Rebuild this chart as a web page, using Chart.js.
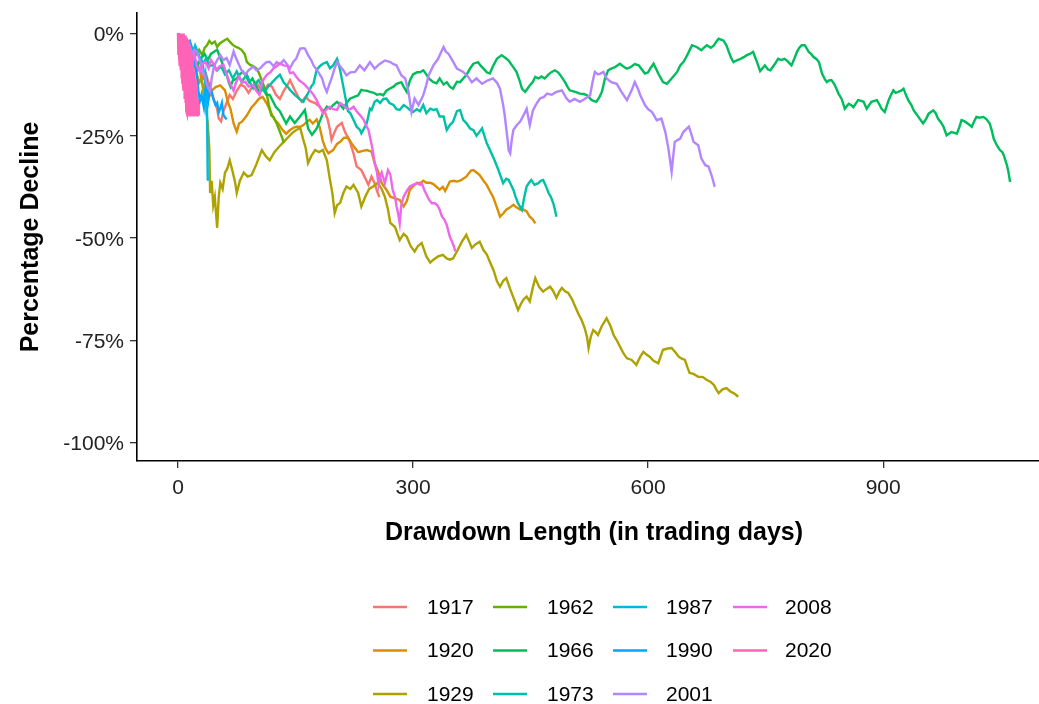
<!DOCTYPE html>
<html>
<head>
<meta charset="utf-8">
<script src="https://cdn.jsdelivr.net/npm/chart.js@4.4.1/dist/chart.umd.min.js"></script>
<style>
    html, body { margin: 0; padding: 0; overflow: hidden; background: #fff; }
    #chart-caidas { display: block; }
</style>
</head>
<body>
<canvas id="chart-caidas" width="1051" height="704"></canvas>
<script>
// [dia, caida %]
const serie1917 = [[0,0],[4,-2],[8,-4],[12,-3],[16,-6],[20,-8],[24,-7],[28,-9],[32,-11],[36,-10],[40,-13],[44,-15],[47,-16.7],[50,-18.4],[52,-20.8],[55,-21.5],[58,-19],[62,-17],[66,-15],[70,-16],[75,-14],[80,-12.5],[85,-13],[90,-14.5],[95,-13],[100,-12],[105,-13.5],[110,-14],[115,-12.5],[120,-13],[125,-15],[130,-16],[135,-14],[140,-12.5],[143,-11.4],[147,-13],[151,-14.6],[155,-16],[158,-16.7],[163,-15.5],[168,-16.5],[175,-17],[181,-17.9],[188,-19.5],[191,-21],[194,-23.6],[196,-26],[200,-24],[203,-22.8],[209,-21.9],[213,-24],[217,-25.5],[220,-26.8],[224,-29.3],[228,-32.5],[234,-33.4],[239,-35.4],[243,-37],[247,-35],[251,-36.6],[254,-38.5],[257,-40]];

const serie1920 = [[0,0],[5,-2],[10,-4],[15,-3],[20,-6],[25,-9],[28,-8.5],[30,-12],[33,-12.7],[36,-14],[39,-15.9],[43,-14],[48,-13.1],[54,-12.7],[60,-13.9],[64,-17],[67,-18.4],[71,-22],[75,-24],[78,-22],[82,-21.5],[88,-20],[94,-18],[99,-17],[103,-16],[108,-15.5],[113,-17],[118,-19],[123,-21],[128,-22],[133,-23.5],[138,-24.5],[143,-23.6],[148,-23],[151,-22.8],[156,-22.8],[160,-22.4],[165,-21.5],[168,-21.1],[172,-22],[177,-21],[181,-23],[185,-26.4],[188,-28],[192,-29.3],[198,-28.5],[203,-27],[207,-26.5],[212,-25.5],[217,-25.5],[222,-27],[226,-28],[230,-29],[236,-28.7],[241,-28.5],[247,-28.9],[251,-31.7],[256,-34],[260,-36.6],[266,-38.2],[271,-39.9],[277,-40.3],[283,-40.7],[288,-42.3],[292,-41],[296,-38.2],[300,-37.4],[305,-36.5],[309,-36.6],[313,-36],[317,-36.5],[322,-36.5],[326,-36.8],[330,-37.5],[334,-38.2],[338,-37.5],[341,-38.5],[347,-36.2],[352,-36],[356,-36.2],[360,-36],[364,-35.5],[368,-35],[371,-34.2],[374,-33.5],[377,-33.4],[381,-34],[385,-34.6],[390,-36],[394,-37],[398,-38.5],[402,-39.9],[407,-42.5],[411,-44.8],[415,-44],[419,-43.1],[424,-42.5],[428,-41.9],[432,-42.5],[437,-43.1],[441,-43],[445,-43.5],[449,-44.8],[453,-45.5],[456,-46.4]];

const serie1929 = [[0,0],[3,-1],[6,-3],[9,-2],[12,-5],[15,-6],[18,-8],[21,-7],[24,-10],[27,-12],[30,-11],[33,-15],[36,-19],[38,-22],[40,-28],[41,-39],[43,-36],[45,-42],[47,-40],[50,-47.5],[52,-40],[54,-36.5],[57,-38],[60,-34],[63,-33],[66,-31],[70,-34],[73,-36.5],[75,-39],[79,-36],[84,-34],[89,-35],[94,-34.6],[100,-32],[107,-28.5],[112,-30],[117,-31],[123,-29],[129,-27.7],[135,-26.5],[140,-25.5],[146,-24.3],[151,-23.6],[156,-23.1],[160,-26],[163,-28],[166,-31.7],[170,-30],[175,-28.5],[180,-29],[185,-28.5],[190,-31],[194,-35.8],[197,-39],[200,-43.9],[203,-42],[207,-41.4],[211,-39],[215,-37.4],[220,-38],[224,-37],[230,-39],[234,-42.3],[239,-39.9],[244,-38],[249,-37.4],[255,-36.5],[260,-38],[264,-39.9],[268,-43],[271,-46.3],[277,-47.3],[283,-50.5],[288,-49],[292,-49.7],[297,-52],[302,-53.3],[306,-52],[311,-51.2],[317,-54.5],[322,-56],[326,-55.3],[332,-54.5],[338,-54.1],[343,-55],[347,-55.3],[351,-55],[356,-53.3],[362,-51],[368,-49.2],[372,-51],[375,-52.4],[380,-51.5],[385,-50.9],[390,-53],[394,-54],[398,-55.8],[403,-58],[407,-60.5],[411,-61.9],[415,-60.5],[419,-59.8],[424,-62.5],[429,-65],[434,-67.6],[438,-66],[441,-65],[445,-64.3],[449,-65.5],[453,-62],[456,-59.8],[461,-62],[466,-63.1],[470,-62.5],[475,-61.9],[479,-63],[483,-64.6],[487,-63],[490,-62.2],[494,-63],[498,-63.4],[503,-65],[507,-66.8],[511,-68.5],[515,-70],[519,-72],[522,-74.1],[524,-76.9],[527,-74],[530,-72.5],[533,-73],[536,-73.7],[541,-71.5],[547,-69.6],[552,-71.5],[556,-73.7],[560,-75],[564,-76.5],[568,-78],[573,-79.4],[579,-79.8],[585,-81],[590,-79],[594,-77.8],[598,-78.5],[602,-79],[607,-80],[613,-80.6],[619,-77.3],[625,-77],[630,-76.9],[635,-78],[639,-79],[643,-79.5],[647,-79.8],[650,-81.5],[653,-83],[658,-83.2],[664,-83.9],[670,-84],[675,-84.7],[680,-85.2],[684,-85.9],[687,-87],[690,-87.9],[695,-87],[700,-86.7],[705,-87.5],[709,-87.9],[712,-88.3],[715,-88.8]];

const serie1962 = [[0,0],[3,-1],[6,-2.5],[9,-1.5],[12,-3],[15,-2],[18,-4],[21,-3.5],[24,-5],[27,-4],[31,-5.3],[34,-3.5],[37,-2.9],[40,-1.8],[43,-2.5],[47,-2],[50,-3.3],[53,-2.5],[56,-2.1],[60,-1.6],[63,-1.3],[66,-2],[70,-2.8],[73,-3.2],[77,-3.5],[81,-4],[85,-5],[88,-7],[92,-7.7],[96,-8],[100,-8.5],[103,-9.5],[106,-11],[110,-13],[113,-14.5],[116,-17.5],[119,-20],[122,-20.5],[126,-22],[130,-24],[133,-25.5],[135,-26.8]];

const serie1966 = [[0,0],[3,-1],[6,-2.5],[9,-2],[12,-4],[15,-5],[18,-4],[21,-6.5],[24,-8.5],[27,-7],[30,-6],[34,-5],[38,-6.5],[42,-5],[46,-4.5],[50,-4],[54,-6],[58,-8],[62,-10],[65,-12],[67,-13],[70,-11.5],[75,-11],[79,-10],[83,-9.3],[87,-10.5],[91,-12],[95,-11],[100,-13],[104,-14.5],[108,-13.5],[113,-15],[117,-15],[121,-16.5],[125,-18],[130,-19],[134,-20.5],[138,-22],[141,-21],[143,-20.3],[149,-21.9],[155,-20.5],[162,-18.7],[166,-23.2],[171,-24.8],[177,-23.2],[182,-21],[186,-19],[190,-17.9],[194,-18.4],[198,-17.5],[203,-16.7],[207,-17.5],[211,-18.4],[215,-17],[220,-15.9],[225,-15.5],[230,-15.1],[234,-13.8],[237,-13.9],[241,-14],[245,-14.3],[250,-14.5],[254,-15],[258,-14.8],[262,-15.1],[266,-14],[270,-13.5],[275,-13],[279,-12.3],[285,-11.9],[288,-13],[292,-14.3],[296,-11.5],[300,-10],[305,-9.5],[309,-9.5],[313,-9],[317,-10],[320,-11],[326,-11.9],[330,-12.2],[334,-11],[339,-12.5],[343,-11.9],[347,-13],[351,-13.5],[356,-11.8],[360,-11.9],[364,-11],[368,-10.2],[373,-8.5],[377,-7.4],[383,-7],[386,-7.8],[390,-8.6],[394,-9.5],[398,-9.8],[402,-8],[407,-6.2],[413,-5.3],[418,-6],[422,-6.6],[427,-8],[432,-9.4],[436,-11.5],[439,-13.5],[443,-14.3],[446,-13.5],[449,-12.7],[453,-11.8],[456,-10.6],[460,-11],[464,-10.5],[468,-11],[473,-10],[477,-9.4],[481,-9],[485,-9.5],[488,-10.2],[494,-11.9],[497,-13],[500,-13.9],[507,-14.3],[513,-14.7],[518,-14.8],[522,-15.1],[528,-16.3],[534,-16.7],[538,-15.5],[541,-14.3],[545,-11],[549,-9],[553,-8.6],[558,-8.2],[564,-7.4],[568,-8],[573,-8.6],[578,-8.2],[583,-7.5],[588,-7.8],[592,-8.8],[596,-9.8],[600,-9.5],[603,-8.5],[607,-7.4],[613,-9.8],[619,-11.9],[624,-12.3],[630,-11],[637,-9.4],[641,-7.8],[645,-7],[648,-6],[652,-4.5],[656,-2.9],[662,-3.3],[668,-4.1],[671,-3.5],[675,-2.9],[680,-3.5],[684,-2.9],[687,-2],[690,-1.3],[693,-1.5],[696,-1.7],[700,-2.9],[703,-4.5],[706,-6],[709,-7],[714,-6.5],[718,-6.2],[722,-5.8],[726,-5.3],[730,-5],[734,-4.5],[736,-5.5],[739,-7],[743,-9.2],[746,-8.5],[749,-7.8],[753,-8.8],[756,-9],[762,-7.4],[766,-6.2],[770,-6.5],[774,-6.2],[777,-6.6],[780,-7.2],[783,-7.8],[787,-6],[790,-4.5],[793,-3.5],[796,-2.9],[800,-2.9],[802,-3.5],[805,-4.5],[808,-5],[811,-5.7],[815,-6.3],[818,-7],[822,-9.8],[825,-11],[828,-11.9],[831,-11.5],[834,-11.4],[838,-12.5],[843,-14.7],[847,-16],[851,-18.4],[856,-17.2],[859,-17.5],[862,-18],[868,-16.3],[872,-16.5],[875,-16.7],[879,-18.4],[882,-17.5],[885,-16.7],[892,-16.3],[895,-17.3],[898,-18.4],[902,-19.2],[907,-16.3],[910,-15],[913,-13.9],[916,-14.5],[919,-14.3],[923,-14],[926,-13.5],[929,-15],[932,-16.3],[936,-17.5],[939,-18.8],[945,-20.4],[948,-21.2],[951,-22],[955,-20.8],[958,-19.6],[964,-18.8],[967,-19.5],[970,-20.8],[974,-21.8],[977,-22.8],[981,-24.9],[984,-24.5],[987,-24.1],[991,-24.3],[994,-24.5],[997,-23],[1000,-21.2],[1004,-21.5],[1008,-22],[1013,-22.8],[1016,-21.5],[1019,-20.4],[1023,-20.6],[1028,-20.4],[1032,-21],[1036,-22],[1039,-24],[1041,-25.7],[1045,-27.3],[1049,-28.5],[1052,-29],[1054,-29.8],[1056,-31],[1058,-32.2],[1060,-34],[1062,-36.3]];

const serie1973 = [[0,0],[4,-1.5],[8,-3],[12,-2],[16,-4],[20,-5.5],[24,-4.5],[28,-6],[32,-7.5],[36,-6],[40,-8],[45,-7.7],[50,-9],[55,-8],[60,-10],[65,-9],[70,-11],[75,-9.3],[81,-11.8],[88,-10.1],[92,-12],[96,-13.4],[100,-12],[103,-11.4],[107,-13],[111,-14.2],[115,-13],[120,-12],[125,-11],[130,-10.1],[135,-12],[140,-13],[143,-13.8],[149,-15],[155,-16],[160,-16.7],[166,-14.6],[170,-13],[173,-12.2],[177,-8.9],[181,-8],[185,-7.4],[190,-7],[194,-8.5],[198,-7.8],[203,-6.2],[207,-9],[211,-13],[213,-15],[217,-19],[220,-19.5],[224,-21.1],[228,-22.8],[232,-23.5],[234,-24.4],[238,-23],[241,-21.9],[245,-18.4],[247,-18.7],[251,-16.7],[254,-16.3],[258,-17],[262,-16],[266,-15.9],[270,-17],[275,-17.5],[279,-18.5],[283,-18.7],[288,-17.5],[292,-18],[296,-18.7],[300,-19.2],[305,-18.5],[309,-19],[313,-17.5],[317,-19.5],[322,-18.4],[326,-18.7],[330,-18.5],[334,-20.3],[339,-20.3],[343,-23.6],[347,-22.4],[351,-21.6],[356,-19],[360,-18.7],[364,-21.1],[368,-21.9],[373,-23.3],[377,-23.6],[381,-25],[385,-24],[388,-23.2],[391,-25],[394,-26.8],[397,-28],[400,-29.3],[404,-31],[409,-33.4],[412,-35],[415,-36.6],[419,-35.5],[422,-35.8],[425,-37],[428,-38.2],[431,-40],[434,-41.5],[439,-43.1],[442,-40],[445,-37.4],[448,-36.5],[451,-35.8],[455,-37],[460,-36.6],[463,-36],[466,-35.8],[470,-37.5],[473,-39],[476,-40],[479,-41.5],[481,-43],[483,-44.8]];

const serie1987 = [[0,0],[2,-1.5],[4,-3],[6,-2],[8,-4],[10,-3.5],[12,-5],[14,-4],[16,-2.5],[18,-3.5],[20,-4.5],[22,-3],[24,-4],[26,-4.9],[28,-6],[30,-6.5],[32,-8],[34,-11],[35,-10],[36,-13],[37,-17.4],[38,-36]];

const serie1990 = [[0,0],[3,-1],[6,-2],[9,-3.5],[12,-3],[15,-4],[16,-2.9],[18,-5],[20,-6],[22,-8],[24,-10],[26,-14],[28,-16.5],[30,-15],[33,-18],[35,-13.5],[37,-12],[39,-15.9],[41,-13],[43,-14.3],[45,-16],[48,-17.5],[50,-17],[52,-19.2],[54,-18.3],[56,-17],[58,-19.9],[60,-20.5],[62,-21]];

const serie2001 = [[0,0],[3,-1.5],[6,-3],[9,-2],[12,-4],[15,-3],[18,-5],[21,-4],[24,-4.4],[27,-6],[30,-8],[32,-9.3],[35,-11],[37,-12.6],[39,-13.5],[41,-14.2],[43,-11],[46,-8],[50,-6.5],[54,-5.3],[58,-6.5],[62,-6],[66,-7.7],[71,-4.4],[74,-6],[77,-7.3],[81,-9],[86,-10],[90,-9],[96,-8.1],[100,-9],[105,-8.5],[109,-7.7],[113,-7],[117,-6.9],[122,-8],[126,-7],[130,-7.5],[135,-6.5],[139,-7.5],[143,-8.5],[147,-7],[151,-6.1],[156,-3.7],[160,-3.6],[162,-3.7],[166,-5.3],[170,-6.5],[173,-7.8],[179,-9.4],[184,-11],[187,-13],[190,-14.3],[193,-12.5],[196,-11],[200,-8.5],[203,-7],[207,-8],[211,-9],[215,-10.2],[220,-9.5],[226,-9.4],[232,-7.8],[238,-9],[245,-7],[251,-8.6],[257,-7.5],[264,-6.6],[271,-7],[275,-7.5],[279,-7.8],[285,-10.2],[290,-11],[294,-14],[298,-19.2],[302,-15.9],[307,-17.5],[313,-15.1],[317,-12.5],[320,-10.2],[326,-7.8],[332,-6.2],[336,-4.5],[339,-3.3],[342,-4.5],[345,-4.9],[350,-6.5],[356,-8.6],[360,-9],[364,-9.4],[370,-10.5],[375,-11.9],[381,-11],[388,-12.3],[395,-11.5],[402,-11],[407,-12],[411,-13.5],[413,-15.5],[415,-17.5],[417,-20],[419,-23.3],[421,-26.5],[422,-28.5],[424,-29.3],[426,-26],[428,-23.6],[432,-22.5],[437,-21.5],[441,-20],[445,-18.4],[449,-22.4],[453,-18.8],[458,-17],[462,-15.9],[467,-15.5],[471,-14.7],[477,-15],[483,-14.3],[490,-13.9],[496,-15.9],[500,-16.7],[506,-16],[513,-16.7],[519,-16],[526,-15.1],[529,-12],[532,-9.4],[536,-10],[539,-9.8],[543,-9.4],[547,-11],[553,-11.9],[560,-12.3],[566,-14.3],[573,-16.3],[579,-13.9],[583,-11.9],[587,-13.5],[590,-15.1],[596,-17.5],[600,-18.5],[605,-19.2],[611,-21.2],[617,-20.8],[622,-24.1],[626,-28.2],[628,-31],[630,-33.8],[634,-26.5],[638,-26],[641,-25.7],[645,-24.1],[648,-23.5],[652,-22.8],[655,-24.5],[658,-26.5],[664,-27.3],[668,-30.6],[673,-32.2],[677,-32.5],[681,-34.7],[683,-36],[685,-37.5]];

const serie2008 = [[0,0],[3,-1],[6,-2.5],[9,-2],[12,-4],[15,-4],[18,-6],[21,-5],[24,-8],[28,-9.3],[31,-7.5],[35,-7],[39,-8.5],[42,-6.5],[45,-7.3],[49,-9],[53,-8],[58,-7.7],[62,-10],[66,-12],[71,-14],[74,-12],[78,-10.5],[82,-12],[86,-11.8],[90,-13],[96,-12.6],[100,-14],[104,-15],[107,-12],[110,-11],[114,-10],[118,-9.5],[122,-8.5],[126,-8],[130,-7.3],[135,-7.8],[140,-8],[143,-9.7],[147,-9.5],[151,-10.6],[155,-11.5],[160,-12.2],[164,-13],[168,-13.8],[173,-15],[177,-16.3],[181,-18],[185,-19.5],[190,-18.5],[194,-17.9],[198,-18.5],[203,-18.7],[207,-17],[211,-17.5],[215,-18.3],[220,-18.5],[224,-17.9],[228,-19],[232,-19.9],[237,-21.1],[241,-22.8],[243,-23.5],[247,-27],[249,-29],[251,-31.7],[254,-34],[256,-37],[258,-35],[260,-34],[264,-36.6],[268,-33.4],[271,-34.5],[274,-38.2],[277,-40],[279,-42.3],[281,-44],[283,-46.4],[285,-42],[288,-39.9],[292,-38.5],[296,-37.4],[300,-37],[305,-36.6],[309,-37],[311,-36.6],[315,-38.5],[320,-40.5],[324,-41.5],[328,-41.5],[331,-42],[334,-43.1],[337,-44.8],[340,-45.5],[343,-46.8],[347,-49.7],[350,-51],[352,-52],[354,-53.3]];

// 2020 se ve como una mancha: sube y baja muy rapido dentro de la banda
const serie2020 = [[0,0],[0.5,-5],[1,0],[1.5,-6],[2,-0.5],[2.5,-8],[3,0],[3.5,-9],[4,-0.5],[4.5,-11],[5,0],[5.5,-12],[6,-1],[6.5,-13],[7,0],[7.5,-14],[8,-1],[8.5,-16],[9,-0.5],[9.5,-17],[10,-1],[10.5,-19],[11,-1],[11.5,-19.5],[12,-1.5],[12.5,-20],[13,-2],[13.5,-20],[14,-2.5],[14.5,-20],[15,-3],[15.5,-20],[16,-4],[16.5,-20],[17,-5],[17.5,-20],[18,-6],[18.5,-20],[19,-7],[19.5,-20],[20,-8.5],[20.5,-20],[21,-9.5],[21.5,-20],[22,-11],[22.5,-20],[23,-12.5],[23.5,-20],[24,-14],[24.5,-20],[25,-16],[25.5,-20],[26,-17.5],[26.5,-20],[27,-19]];

const anios = ['1917', '1920', '1929', '1962', '1966', '1973', '1987', '1990', '2001', '2008', '2020'];
const series = [serie1917, serie1920, serie1929, serie1962, serie1966, serie1973, serie1987, serie1990, serie2001, serie2008, serie2020];
const colores = ['#F8766D', '#DB8E00', '#AEA200', '#64B200', '#00BD5C', '#00C1A7', '#00BADE', '#00A6FF', '#B385FF', '#EF67EB', '#FF63B6'];

const ticksX = [0, 300, 600, 900];
const ticksY = [0, -25, -50, -75, -100];

const FUENTE = "'Liberation Sans', Arial, Helvetica, sans-serif";
Chart.defaults.font.family = FUENTE;
Chart.defaults.color = '#222';

// leyenda en 3 filas, llenada por columnas (como ggplot)
const leyendaGrid = {
    id: 'leyendaGrid',
    afterDraw(chart) {
        const ctx = chart.ctx;
        const lineaX = [373, 493, 613, 733];
        const textoX = [427, 547, 666, 785];
        const filaY = [607, 650.5, 694];
        ctx.save();
        ctx.font = '21px ' + FUENTE;
        ctx.textBaseline = 'middle';
        ctx.textAlign = 'left';
        anios.forEach((anio, i) => {
            const col = Math.floor(i / 3);
            const fila = i % 3;
            const y = filaY[fila];
            ctx.strokeStyle = colores[i];
            ctx.lineWidth = 2.6;
            ctx.beginPath();
            ctx.moveTo(lineaX[col], y);
            ctx.lineTo(lineaX[col] + 34, y);
            ctx.stroke();
            ctx.fillStyle = '#000';
            ctx.fillText(anio, textoX[col], y + 1);
        });
        ctx.restore();
    }
};

function renderizarGrafico() {
    const ctx = document.getElementById('chart-caidas').getContext('2d');

    const datasets = series.map((serie, i) => ({
        label: anios[i],
        data: serie.map(p => ({ x: p[0], y: p[1] })),
        borderColor: colores[i],
        backgroundColor: colores[i],
        borderWidth: 2.4,
        pointRadius: 0,
        tension: 0,
        fill: false,
        order: series.length - i
    }));

    new Chart(ctx, {
        type: 'line',
        data: { datasets: datasets },
        options: {
            responsive: false,
            animation: false,
            layout: { padding: { top: 13, left: 0, right: 0, bottom: 0 } },
            plugins: {
                legend: { display: false },
                tooltip: { enabled: false }
            },
            scales: {
                x: {
                    type: 'linear',
                    min: -52.3,
                    max: 1114.2,
                    afterFit: (scale) => {
                        scale.height = 243;
                        scale.paddingLeft = 0;
                        scale.paddingRight = 0;
                    },
                    afterBuildTicks: (scale) => { scale.ticks = ticksX.map(v => ({ value: v })); },
                    ticks: { padding: 8, font: { size: 21 }, color: '#222', maxRotation: 0, autoSkip: false },
                    grid: { display: true, drawOnChartArea: false, drawTicks: true, tickLength: 7, tickColor: '#333', lineWidth: 1.3 },
                    border: { display: true, color: '#000', width: 1.6 },
                    title: {
                        display: true,
                        text: 'Drawdown Length (in trading days)',
                        font: { size: 25, weight: 'bold' },
                        color: '#000',
                        padding: { top: 0, bottom: 156 }
                    }
                },
                y: {
                    type: 'linear',
                    min: -104.5,
                    max: 5,
                    afterFit: (scale) => {
                        scale.width = 137;
                        scale.paddingTop = 0;
                        scale.paddingBottom = 0;
                    },
                    afterBuildTicks: (scale) => { scale.ticks = ticksY.map(v => ({ value: v })); },
                    ticks: {
                        padding: 6,
                        labelOffset: 2,
                        font: { size: 21 },
                        color: '#222',
                        callback: (v) => v + '%'
                    },
                    grid: { display: true, drawOnChartArea: false, drawTicks: true, tickLength: 7, tickColor: '#333', lineWidth: 1.3 },
                    border: { display: true, color: '#000', width: 1.6 },
                    title: {
                        display: true,
                        text: 'Percentage Decline',
                        font: { size: 25, weight: 'bold' },
                        color: '#000',
                        padding: { top: 16, bottom: 0 }
                    }
                }
            }
        },
        plugins: [leyendaGrid]
    });
}

document.addEventListener('DOMContentLoaded', renderizarGrafico);
</script>
</body>
</html>
